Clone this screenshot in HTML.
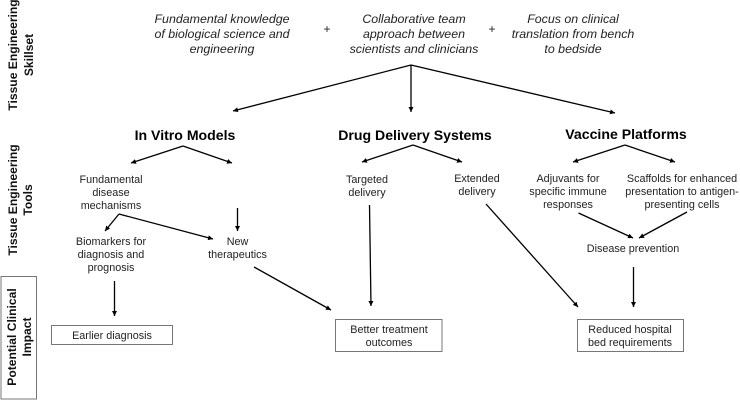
<!DOCTYPE html>
<html><head><meta charset="utf-8"><style>
html,body{margin:0;padding:0;background:#fff}
svg{display:block}
text{font-family:"Liberation Sans",sans-serif;fill:#1a1a1a;text-anchor:middle}
.i{font-size:12.4px;font-style:italic;fill:#222}
.h{font-size:14.1px;font-weight:bold;fill:#000}
.s{font-size:10.8px;fill:#222}
.p{font-size:12px;fill:#222}
.r{font-size:12.1px;font-weight:bold;fill:#111}
.l{stroke:#000;stroke-width:1.3;fill:none}
.b{fill:#fff;stroke:#777;stroke-width:1}
</style></head><body>
<svg width="740" height="400" viewBox="0 0 740 400" xmlns="http://www.w3.org/2000/svg">
<defs><marker id="a" markerUnits="userSpaceOnUse" markerWidth="6" markerHeight="5" refX="5" refY="2.500" orient="auto"><path d="M0 0L5 2.500L0 5Z" fill="#000"/></marker></defs>

<text class="i" x="222" y="23">Fundamental knowledge</text>
<text class="i" x="222" y="38">of biological science and</text>
<text class="i" x="222" y="53">engineering</text>
<text class="p" x="327" y="33">+</text>
<text class="i" x="414" y="23">Collaborative team</text>
<text class="i" x="414" y="38">approach between</text>
<text class="i" x="414" y="53">scientists and clinicians</text>
<text class="p" x="492" y="33">+</text>
<text class="i" x="573" y="23">Focus on clinical</text>
<text class="i" x="573" y="38">translation from bench</text>
<text class="i" x="573" y="53">to bedside</text>

<path class="l" marker-end="url(#a)" d="M411 65L233 111"/>
<path class="l" marker-end="url(#a)" d="M411 65L411 112"/>
<path class="l" marker-end="url(#a)" d="M411 65L615 113"/>

<text class="h" x="185" y="140">In Vitro Models</text>
<text class="h" x="415" y="140">Drug Delivery Systems</text>
<text class="h" x="626" y="139">Vaccine Platforms</text>

<path class="l" marker-end="url(#a)" d="M183 146L131 163"/>
<path class="l" marker-end="url(#a)" d="M183 146L232 163"/>
<path class="l" marker-end="url(#a)" d="M413 145L362 162"/>
<path class="l" marker-end="url(#a)" d="M413 145L462 162"/>
<path class="l" marker-end="url(#a)" d="M625 145L573 162"/>
<path class="l" marker-end="url(#a)" d="M625 145L675 162"/>

<text class="s" x="111" y="183">Fundamental</text>
<text class="s" x="111" y="196">disease</text>
<text class="s" x="111" y="209">mechanisms</text>
<text class="s" x="367" y="183">Targeted</text>
<text class="s" x="367" y="196">delivery</text>
<text class="s" x="477" y="182">Extended</text>
<text class="s" x="477" y="195">delivery</text>
<text class="s" x="568" y="182">Adjuvants for</text>
<text class="s" x="568" y="195">specific immune</text>
<text class="s" x="568" y="208">responses</text>
<text class="s" x="682" y="182">Scaffolds for enhanced</text>
<text class="s" x="682" y="195">presentation to antigen-</text>
<text class="s" x="682" y="208">presenting cells</text>
<text class="s" x="111" y="245">Biomarkers for</text>
<text class="s" x="111" y="258">diagnosis and</text>
<text class="s" x="111" y="271">prognosis</text>
<text class="s" x="237.500" y="245">New</text>
<text class="s" x="237.500" y="258">therapeutics</text>
<text class="s" x="633" y="252">Disease prevention</text>

<path class="l" marker-end="url(#a)" d="M119 214L105 231"/>
<path class="l" marker-end="url(#a)" d="M119 214L213 239"/>
<path class="l" marker-end="url(#a)" d="M237.500 208L237.500 231"/>
<path class="l" marker-end="url(#a)" d="M254 267L331 310"/>
<path class="l" marker-end="url(#a)" d="M114.500 281L114.500 316"/>
<path class="l" marker-end="url(#a)" d="M369.500 205L371 306"/>
<path class="l" marker-end="url(#a)" d="M486 204L578 307"/>
<path class="l" marker-end="url(#a)" d="M578.500 213L633 238"/>
<path class="l" marker-end="url(#a)" d="M687 212L639 238"/>
<path class="l" marker-end="url(#a)" d="M633.500 267L633.500 307"/>

<rect class="b" x="51.500" y="325.500" width="121" height="19"/>
<rect class="b" x="335.500" y="319.500" width="106.500" height="32"/>
<rect class="b" x="577.500" y="319.500" width="106" height="32"/>
<rect class="b" x="1" y="276.500" width="35.500" height="122.500"/>

<text class="s" x="112" y="339">Earlier diagnosis</text>
<text class="s" x="389" y="333">Better treatment</text>
<text class="s" x="389" y="346">outcomes</text>
<text class="s" x="630" y="333">Reduced hospital</text>
<text class="s" x="630" y="346">bed requirements</text>

<text class="r" transform="translate(17 55) rotate(-90)">Tissue Engineering</text>
<text class="r" transform="translate(33 55) rotate(-90)">Skillset</text>
<text class="r" transform="translate(17 200) rotate(-90)">Tissue Engineering</text>
<text class="r" transform="translate(32 200) rotate(-90)">Tools</text>
<text class="r" transform="translate(16 337) rotate(-90)">Potential Clinical</text>
<text class="r" transform="translate(31 337) rotate(-90)">Impact</text>
</svg>
</body></html>
